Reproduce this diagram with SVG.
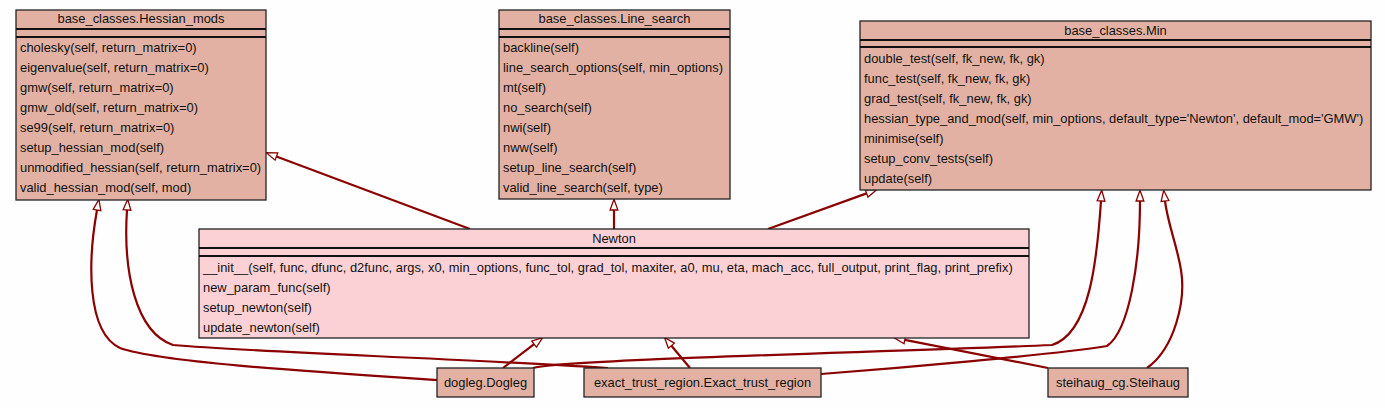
<svg xmlns="http://www.w3.org/2000/svg" width="1385" height="408" viewBox="0 0 1385 408">
<style>
.box{fill:#e2b1a4;stroke:#222;stroke-width:1.3}
.nbox{fill:#fcd1d5;stroke:#222;stroke-width:1.3}
.sep{stroke:#111;stroke-width:2}
text{font-family:"Liberation Sans",Arial,sans-serif;font-size:12.9px;fill:#111}
.t{text-anchor:middle}
.e{fill:none;stroke:#8b0000;stroke-width:2.2}
</style>
<defs>
<marker id="ah" markerUnits="userSpaceOnUse" markerWidth="14" markerHeight="12" viewBox="-1 -5 13 10" refX="0" refY="0" orient="auto" overflow="visible">
<path d="M0,-3.6 L10,0 L0,3.6 Z" fill="#fff" stroke="#8b0000" stroke-width="1.2"/>
</marker>
</defs>
<rect width="1385" height="408" fill="#fdfefd"/>
<g id="connectors">
<path class="e" d="M470,229 L276.4,156.5" marker-end="url(#ah)"/>
<path class="e" d="M614,229 L614,210" marker-end="url(#ah)"/>
<path class="e" d="M768,229 L866.6,193.4" marker-end="url(#ah)"/>
<path class="e" d="M503,368 L534.1,344.1" marker-end="url(#ah)"/>
<path class="e" d="M690,368 L671.4,345.7" marker-end="url(#ah)"/>
<path class="e" d="M1048,368 L904.8,339.9" marker-end="url(#ah)"/>
<path class="e" d="M437,380 C300,371 160,362 120,348 C86,332 88,260 97,210" marker-end="url(#ah)"/>
<path class="e" d="M608,368 C450,358 250,352 173,345 C135,332 123,270 127,210" marker-end="url(#ah)"/>
<path class="e" d="M533,368 C565,359 900,352 1052,345 C1090,333 1097,260 1101,201" marker-end="url(#ah)"/>
<path class="e" d="M821,374 C900,368 1050,355 1107,346 C1130,330 1140,260 1140,201" marker-end="url(#ah)"/>
<path class="e" d="M1147,368 C1175,348 1186,300 1181,270 C1177,245 1168,225 1165,201" marker-end="url(#ah)"/>
</g>
<g id="hessian_mods">
<rect class="box" x="16" y="10" width="250" height="190"/>
<line class="sep" x1="16" y1="29" x2="266" y2="29"/>
<line class="sep" x1="16" y1="37" x2="266" y2="37"/>
<text class="t" x="141" y="23">base_classes.Hessian_mods</text>
<text x="20" y="51.5">cholesky(self, return_matrix=0)</text>
<text x="20" y="71.5">eigenvalue(self, return_matrix=0)</text>
<text x="20" y="91.5">gmw(self, return_matrix=0)</text>
<text x="20" y="111.5">gmw_old(self, return_matrix=0)</text>
<text x="20" y="131.5">se99(self, return_matrix=0)</text>
<text x="20" y="151.5">setup_hessian_mod(self)</text>
<text x="20" y="171.5">unmodified_hessian(self, return_matrix=0)</text>
<text x="20" y="191.5">valid_hessian_mod(self, mod)</text>
</g>
<g id="line_search">
<rect class="box" x="499" y="10" width="231" height="189"/>
<line class="sep" x1="499" y1="29" x2="730" y2="29"/>
<line class="sep" x1="499" y1="37" x2="730" y2="37"/>
<text class="t" x="614.5" y="23">base_classes.Line_search</text>
<text x="503" y="51.5">backline(self)</text>
<text x="503" y="71.5">line_search_options(self, min_options)</text>
<text x="503" y="91.5">mt(self)</text>
<text x="503" y="111.5">no_search(self)</text>
<text x="503" y="131.5">nwi(self)</text>
<text x="503" y="151.5">nww(self)</text>
<text x="503" y="171.5">setup_line_search(self)</text>
<text x="503" y="191.5">valid_line_search(self, type)</text>
</g>
<g id="min">
<rect class="box" x="860" y="21" width="511" height="169"/>
<line class="sep" x1="860" y1="40" x2="1371" y2="40"/>
<line class="sep" x1="860" y1="47" x2="1371" y2="47"/>
<text class="t" x="1115.5" y="34.5">base_classes.Min</text>
<text x="864" y="62.5">double_test(self, fk_new, fk, gk)</text>
<text x="864" y="82.5">func_test(self, fk_new, fk, gk)</text>
<text x="864" y="102.5">grad_test(self, fk_new, fk, gk)</text>
<text x="864" y="122.5">hessian_type_and_mod(self, min_options, default_type='Newton', default_mod='GMW')</text>
<text x="864" y="142.5">minimise(self)</text>
<text x="864" y="162.5">setup_conv_tests(self)</text>
<text x="864" y="182.5">update(self)</text>
</g>
<g id="newton">
<rect class="nbox" x="199" y="229" width="830" height="109"/>
<line class="sep" x1="199" y1="248" x2="1029" y2="248"/>
<line class="sep" x1="199" y1="256" x2="1029" y2="256"/>
<text class="t" x="614" y="242.5">Newton</text>
<text x="203" y="271.5">__init__(self, func, dfunc, d2func, args, x0, min_options, func_tol, grad_tol, maxiter, a0, mu, eta, mach_acc, full_output, print_flag, print_prefix)</text>
<text x="203" y="291.5">new_param_func(self)</text>
<text x="203" y="311.5">setup_newton(self)</text>
<text x="203" y="331.5">update_newton(self)</text>
</g>
<g id="dogleg">
<rect class="box" x="437" y="368" width="97" height="29"/>
<text class="t" x="485.5" y="387">dogleg.Dogleg</text>
</g>
<g id="exact_trust_region">
<rect class="box" x="584" y="368" width="237" height="29"/>
<text class="t" x="702.5" y="387">exact_trust_region.Exact_trust_region</text>
</g>
<g id="steihaug">
<rect class="box" x="1048" y="368" width="140" height="29"/>
<text class="t" x="1118" y="387">steihaug_cg.Steihaug</text>
</g>
</svg>
